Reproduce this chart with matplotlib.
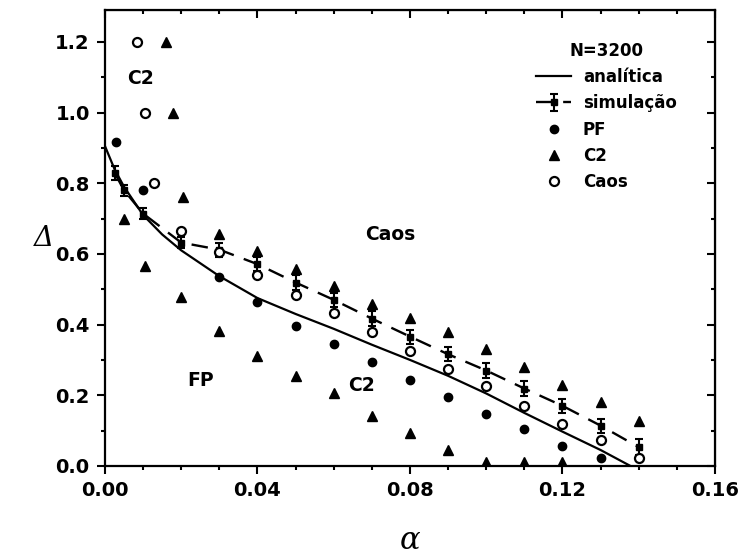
import matplotlib
matplotlib.use('Agg')
import matplotlib.pyplot as plt
from matplotlib.ticker import MultipleLocator

plt.rcParams['font.family'] = ['DejaVu Sans']

# analytic phase boundary
alpha_an = [0.0, 0.0025, 0.005, 0.01, 0.015, 0.02, 0.03, 0.04, 0.05, 0.06,
            0.07, 0.08, 0.09, 0.10, 0.11, 0.12, 0.13, 0.1378]
delta_an = [0.905, 0.84, 0.79, 0.71, 0.655, 0.61, 0.537, 0.475, 0.43, 0.388,
            0.343, 0.30, 0.255, 0.205, 0.15, 0.097, 0.045, 0.0]

# simulated boundary with error bars
alpha_sim = [0.0025, 0.005, 0.01, 0.02, 0.03, 0.04, 0.05, 0.06, 0.07, 0.08,
             0.09, 0.10, 0.11, 0.12, 0.13, 0.14]
delta_sim = [0.83, 0.78, 0.714, 0.632, 0.612, 0.571, 0.519, 0.470, 0.417, 0.366,
             0.316, 0.270, 0.219, 0.170, 0.114, 0.053]
err_sim = [0.02, 0.015, 0.015, 0.015, 0.02, 0.02, 0.02, 0.02, 0.02, 0.02,
           0.02, 0.02, 0.02, 0.02, 0.02, 0.022]

# PF points (filled circles)
alpha_pf = [0.0028, 0.01, 0.03, 0.04, 0.05, 0.06, 0.07, 0.08, 0.09, 0.10,
            0.11, 0.12, 0.13]
delta_pf = [0.916, 0.78, 0.534, 0.463, 0.396, 0.345, 0.293, 0.244, 0.194, 0.146,
            0.105, 0.057, 0.022]

# C2 points (triangles), upper and lower branches
alpha_c2 = [0.016, 0.0178, 0.0204, 0.03, 0.04, 0.05, 0.06, 0.07, 0.08, 0.09,
            0.10, 0.11, 0.12, 0.13, 0.14,
            0.005, 0.0105, 0.02, 0.03, 0.04, 0.05, 0.06, 0.07, 0.08, 0.09,
            0.10, 0.11, 0.12]
delta_c2 = [1.2, 1.0, 0.76, 0.655, 0.608, 0.558, 0.508, 0.458, 0.42, 0.378,
            0.33, 0.279, 0.229, 0.18, 0.128,
            0.70, 0.566, 0.478, 0.382, 0.31, 0.255, 0.205, 0.142, 0.093, 0.046,
            0.012, 0.012, 0.012]

# Caos points (open circles)
alpha_caos = [0.0085, 0.0105, 0.0128, 0.02, 0.03, 0.04, 0.05, 0.06, 0.07, 0.08,
              0.09, 0.10, 0.11, 0.12, 0.13, 0.14]
delta_caos = [1.2, 1.0, 0.80, 0.665, 0.604, 0.54, 0.483, 0.434, 0.38, 0.324,
              0.274, 0.226, 0.17, 0.119, 0.072, 0.022]

fig = plt.figure(figsize=(7.44, 5.6), dpi=100)
ax = fig.add_axes([0.1411, 0.168, 0.8199, 0.814])

h_an, = ax.plot(alpha_an, delta_an, '-', color='black', lw=1.6, label='analítica')
h_sim = ax.errorbar(alpha_sim, delta_sim, yerr=err_sim, fmt='s', color='black',
                    ms=5, capsize=3, capthick=1.5, elinewidth=1.5,
                    ls=(0, (7, 4.5)), lw=1.7, label='simulação')
h_pf, = ax.plot(alpha_pf, delta_pf, 'o', color='black', ms=6, label='PF')
h_c2, = ax.plot(alpha_c2, delta_c2, '^', color='black', ms=7, label='C2')
h_caos, = ax.plot(alpha_caos, delta_caos, 'o', mfc='white', mec='black', mew=1.6,
                  ms=6.5, label='Caos', zorder=4)

# region labels
lab = dict(fontsize=13.5, fontweight='bold', ha='center', va='center')
ax.text(0.0092, 1.095, 'C2', **lab)
ax.text(0.0748, 0.655, 'Caos', **lab)
ax.text(0.0674, 0.227, 'C2', **lab)
ax.text(0.025, 0.241, 'FP', **lab)

ax.set_xlim(0, 0.16)
ax.set_ylim(0, 1.29)
ax.xaxis.set_major_locator(MultipleLocator(0.04))
ax.xaxis.set_minor_locator(MultipleLocator(0.01))
ax.yaxis.set_major_locator(MultipleLocator(0.2))
ax.yaxis.set_minor_locator(MultipleLocator(0.1))
ax.xaxis.set_major_formatter(plt.FormatStrFormatter('%.2f'))
ax.yaxis.set_major_formatter(plt.FormatStrFormatter('%.1f'))

ax.tick_params(which='both', direction='out', width=1.5)
ax.tick_params(which='major', length=6, labelsize=14, pad=5)
ax.tick_params(which='minor', length=3)
for lbl in ax.get_xticklabels() + ax.get_yticklabels():
    lbl.set_fontweight('bold')
for spine in ax.spines.values():
    spine.set_linewidth(1.6)

# inward ticks along top and right edges
top = ax.secondary_xaxis('top')
top.set_xticks([0.0, 0.04, 0.08, 0.12, 0.16])
top.xaxis.set_minor_locator(MultipleLocator(0.01))
top.tick_params(which='both', direction='in', width=1.5, labeltop=False)
top.tick_params(which='major', length=6)
top.tick_params(which='minor', length=3)
right = ax.secondary_yaxis('right')
right.yaxis.set_major_locator(MultipleLocator(0.2))
right.yaxis.set_minor_locator(MultipleLocator(0.1))
right.tick_params(which='both', direction='in', width=1.5, labelright=False)
right.tick_params(which='major', length=6)
right.tick_params(which='minor', length=3)

ax.set_xlabel('α', fontsize=22, family='DejaVu Serif', style='italic', labelpad=18)
ax.set_ylabel('Δ', fontsize=20, family='DejaVu Serif', style='italic',
              rotation=0, labelpad=8, va='center')

leg = ax.legend([h_an, h_sim, h_pf, h_c2, h_caos],
                ['analítica', 'simulação', 'PF', 'C2', 'Caos'],
                title='N=3200', loc='upper left', bbox_to_anchor=(0.685, 0.96),
                frameon=False, fontsize=12, handlelength=2.1,
                handletextpad=0.7, labelspacing=0.5, borderpad=0.3)
plt.setp(leg.get_title(), fontweight='bold', fontsize=12)
for t in leg.get_texts():
    t.set_fontweight('bold')

fig.savefig('out.png', dpi=100)
